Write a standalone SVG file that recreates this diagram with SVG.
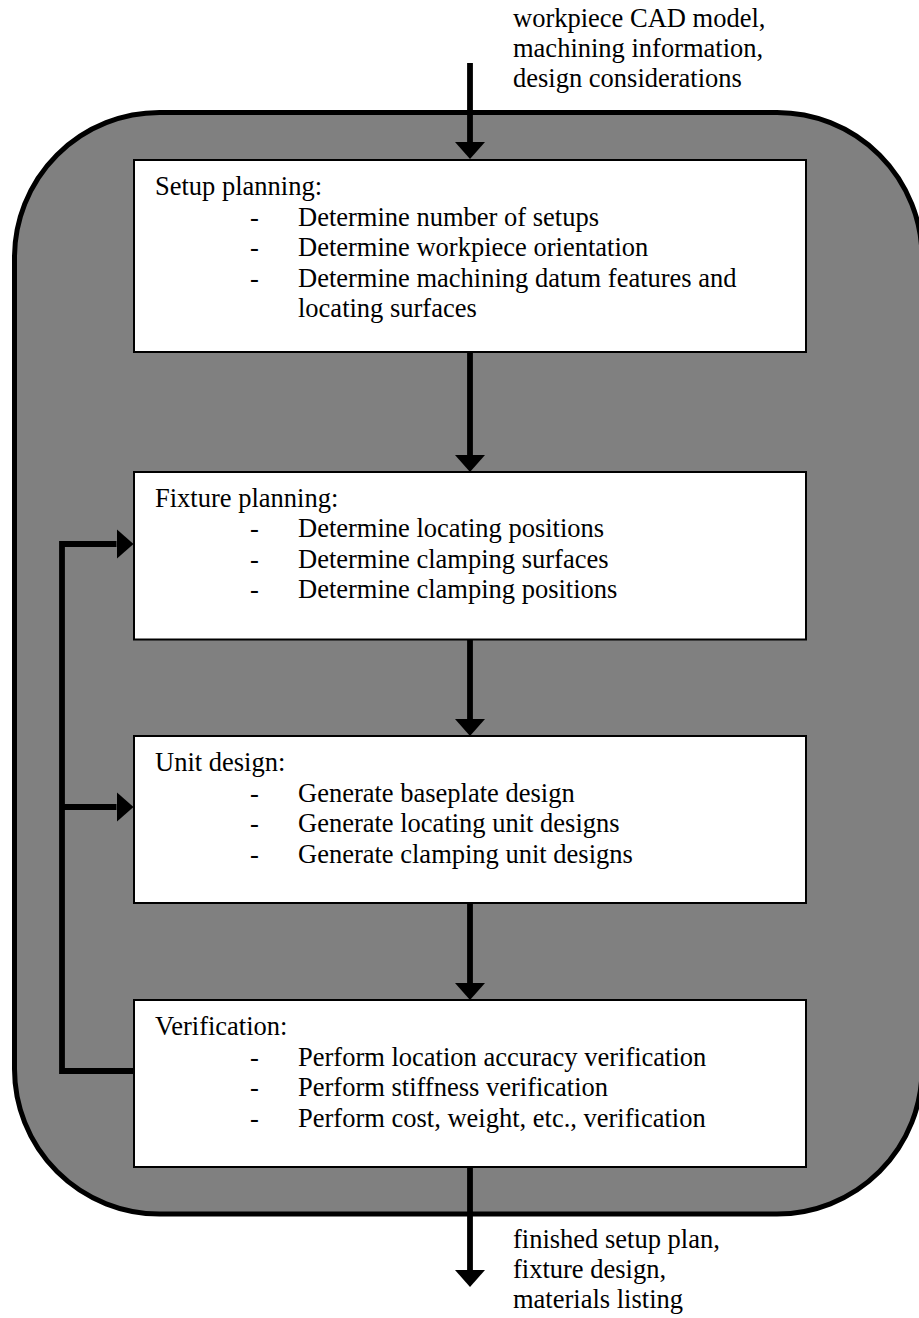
<svg xmlns="http://www.w3.org/2000/svg" width="919" height="1318" viewBox="0 0 919 1318">
  <style>
    text { font-family: "Liberation Serif", "Times New Roman", serif; font-size: 26.5px; fill: #000; }
    .frame { fill: #808080; stroke: #000; stroke-width: 5; }
    .box { fill: #fff; stroke: #000; stroke-width: 2; }
    .flow { fill: none; stroke: #000; stroke-width: 5.8; stroke-linecap: butt; stroke-linejoin: miter; }
  </style>
  <defs>
    <marker id="head" viewBox="0 -15 17 30" refX="0" refY="0" markerWidth="17" markerHeight="30" markerUnits="userSpaceOnUse" orient="auto">
      <path d="M0,-15 L17,0 L0,15 Z" fill="#000"/>
    </marker>
  </defs>

  <!-- process boundary -->
  <rect class="frame" x="14.5" y="112.5" width="907.5" height="1101.5" rx="145" ry="145"/>

  <!-- input / output labels -->
  <g id="inputs">
    <text x="513" y="26.5">workpiece CAD model,</text>
    <text x="513" y="56.5">machining information,</text>
    <text x="513" y="87">design considerations</text>
  </g>
  <g id="outputs">
    <text x="513" y="1248">finished setup plan,</text>
    <text x="513" y="1278">fixture design,</text>
    <text x="513" y="1308">materials listing</text>
  </g>

  <!-- connectors -->
  <g id="connectors">
    <line class="flow" x1="470" y1="63" x2="470" y2="142" marker-end="url(#head)"/>
    <line class="flow" x1="470" y1="352" x2="470" y2="455" marker-end="url(#head)"/>
    <line class="flow" x1="470" y1="639" x2="470" y2="719" marker-end="url(#head)"/>
    <line class="flow" x1="470" y1="903" x2="470" y2="983" marker-end="url(#head)"/>
    <line class="flow" x1="470" y1="1167" x2="470" y2="1270" marker-end="url(#head)"/>
    <path class="flow" d="M134,1071 H62 V544 H116.5" marker-end="url(#head)"/>
    <line class="flow" x1="62" y1="807" x2="116.5" y2="807" marker-end="url(#head)"/>
  </g>

  <g id="setup-planning">
    <rect class="box" x="134" y="160" width="672" height="192"/>
    <text x="155" y="195">Setup planning:</text>
    <text x="250" y="225.5">-</text><text x="298" y="225.5">Determine number of setups</text>
    <text x="250" y="256">-</text><text x="298" y="256">Determine workpiece orientation</text>
    <text x="250" y="286.5">-</text><text x="298" y="286.5">Determine machining datum features and</text>
    <text x="298" y="317">locating surfaces</text>
  </g>

  <g id="fixture-planning">
    <rect class="box" x="134" y="472" width="672" height="167.5"/>
    <text x="155" y="506.5">Fixture planning:</text>
    <text x="250" y="537">-</text><text x="298" y="537">Determine locating positions</text>
    <text x="250" y="567.5">-</text><text x="298" y="567.5">Determine clamping surfaces</text>
    <text x="250" y="598">-</text><text x="298" y="598">Determine clamping positions</text>
  </g>

  <g id="unit-design">
    <rect class="box" x="134" y="736" width="672" height="167"/>
    <text x="155" y="770.5">Unit design:</text>
    <text x="250" y="801.5">-</text><text x="298" y="801.5">Generate baseplate design</text>
    <text x="250" y="832">-</text><text x="298" y="832">Generate locating unit designs</text>
    <text x="250" y="862.5">-</text><text x="298" y="862.5">Generate clamping unit designs</text>
  </g>

  <g id="verification">
    <rect class="box" x="134" y="1000" width="672" height="167"/>
    <text x="155" y="1035">Verification:</text>
    <text x="250" y="1065.5">-</text><text x="298" y="1065.5">Perform location accuracy verification</text>
    <text x="250" y="1096">-</text><text x="298" y="1096">Perform stiffness verification</text>
    <text x="250" y="1126.5">-</text><text x="298" y="1126.5">Perform cost, weight, etc., verification</text>
  </g>
</svg>
